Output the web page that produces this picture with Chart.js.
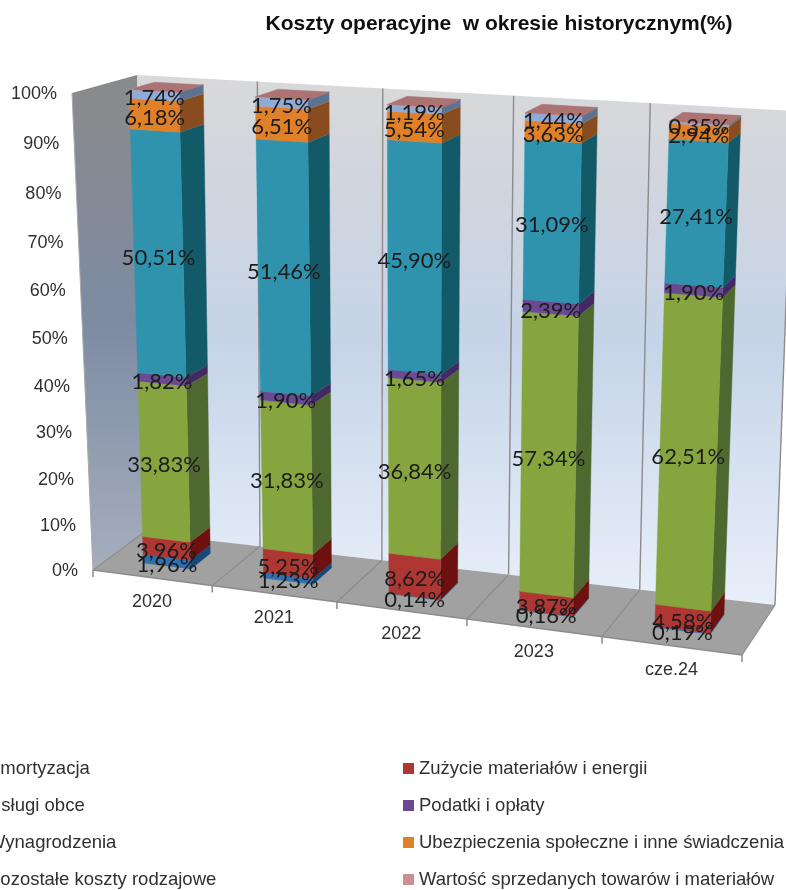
<!DOCTYPE html>
<html lang="pl"><head><meta charset="utf-8">
<style>html,body{margin:0;padding:0;background:#fff;overflow:hidden}#w{position:relative;width:786px;height:890px}</style>
<script src="https://cdn.jsdelivr.net/npm/chart.js@4"></script>
</head><body><div id="w"><canvas id="c"></canvas></div>
<script>
const categories = ['2020','2021','2022','2023','cze.24'];
const titleText = 'Koszty operacyjne  w okresie historycznym(%)';
const amortyzacja = [1.96,1.23,0.14,0.16,0.19];
const zuzycie = [3.96,5.25,8.62,3.87,4.58];
const uslugi = [33.83,31.83,36.84,57.34,62.51];
const podatki = [1.82,1.90,1.65,2.39,1.90];
const wynagrodzenia = [50.51,51.46,45.90,31.09,27.41];
const ubezpieczenia = [6.18,6.51,5.54,3.63,2.94];
const pozostale = [1.74,1.75,1.19,1.44,0.35];
const wartosc = [0,0.07,0.12,0,0.02];
const seriesNames = ['Amortyzacja','Zużycie materiałów i energii','Usługi obce','Podatki i opłaty','Wynagrodzenia','Ubezpieczenia społeczne i inne świadczenia','Pozostałe koszty rodzajowe','Wartość sprzedanych towarów i materiałów'];
const seriesValues = [amortyzacja,zuzycie,uslugi,podatki,wynagrodzenia,ubezpieczenia,pozostale,wartosc];
const frontColors = ['#2e70b0','#ae3733','#86a53f','#6a4a93','#2f93ae','#e08028','#90abd8','#cd8f8f'];
const sideColors  = ['#154a78','#6c1010','#4f682f','#412a63','#125a68','#884c1e','#5a7390','#7f5a5a'];
const topColors   = ['#3a80c0','#c04a45','#9ab84f','#7d5ca8','#45a5c0','#e89340','#a5bce2','#ad7272'];
const showLabel = [true,true,true,true,true,true,true,false];

// 3D frame of the plot, as corners of the floor and of the 100% plane
const floorQuad = [[93,570],[742,655],[775,605],[143,533]];
const ceilQuad  = [[72,93],[766,134],[793,111],[137,75]];
const floorWarp = 0.13, ceilWarp = 0.012;
const barDepth = [0.3,0.7];
const uShift = 0;
const vBend = 0.945;

function homography(q){
  const [[x0,y0],[x1,y1],[x2,y2],[x3,y3]] = q;
  const dx1=x1-x2,dx2=x3-x2,sx=x0-x1+x2-x3,dy1=y1-y2,dy2=y3-y2,sy=y0-y1+y2-y3;
  const den=dx1*dy2-dx2*dy1, g=(sx*dy2-dx2*sy)/den, h=(dx1*sy-sx*dy1)/den;
  const a=x1-x0+g*x1,b=x3-x0+h*x3,c=x0,d=y1-y0+g*y1,e=y3-y0+h*y3,f=y0;
  return (u,v)=>{const w=g*u+h*v+1;return [(a*u+b*v+c)/w,(d*u+e*v+f)/w];};
}
const floorH = homography(floorQuad), ceilH = homography(ceilQuad);
function P(u,d,v){
  const t = v*vBend/(1+(vBend-1)*v);
  const a=floorH(u+floorWarp*u*(1-u),d), b=ceilH(u+ceilWarp*u*(1-u),d);
  return [a[0]+(b[0]-a[0])*t, a[1]+(b[1]-a[1])*t];
}
function poly(ctx,pts,fill,stroke,lw){
  ctx.beginPath();pts.forEach((p,i)=>i?ctx.lineTo(p[0],p[1]):ctx.moveTo(p[0],p[1]));ctx.closePath();
  if(fill){ctx.fillStyle=fill;ctx.fill();}
  if(stroke){ctx.strokeStyle=stroke;ctx.lineWidth=lw||1;ctx.stroke();}
}
function line(ctx,a,b,c,w){ctx.beginPath();ctx.moveTo(a[0],a[1]);ctx.lineTo(b[0],b[1]);ctx.strokeStyle=c;ctx.lineWidth=w;ctx.stroke();}

const view3d = {
  id:'view3d',
  afterLayout(chart){ const t=chart.titleBlock; t.left=212; t.right=786; },
  beforeDatasetsDraw(chart){
    const ctx=chart.ctx, {left,right}=chart.chartArea, xs=chart.scales.x, ys=chart.scales.y, n=categories.length;
    ctx.save();
    // walls
    let g=ctx.createLinearGradient(0,75,0,610);
    g.addColorStop(0,'#d9d9d9');g.addColorStop(0.13,'#d3d6dc');g.addColorStop(0.5,'#c6d4e8');g.addColorStop(1,'#e9f0fa');
    poly(ctx,[P(0,1,0),P(1,1,0),P(1,1,1),P(0,1,1)],g);
    g=ctx.createLinearGradient(0,75,0,570);
    g.addColorStop(0,'#8a8a8a');g.addColorStop(0.5,'#7d8ba3');g.addColorStop(1,'#a6aebd');
    poly(ctx,[P(0,0,0),P(0,1,0),P(0,1,1),P(0,0,1)],g);
    poly(ctx,[P(0,0,0),P(1,0,0),P(1,1,0),P(0,1,0)],'#a1a1a1');
    // grid
    for(let k=0;k<=n;k++){
      const u=k/n;
      if(k>0) line(ctx,P(u,1,0),P(u,1,1),'#8c8c8c',1.4);
      line(ctx,P(u,0,0),P(u,1,0),'#8c8c8c',1.2);
      const a=P(u,0,0); line(ctx,a,[a[0],a[1]+7],'#8c8c8c',1.5);
    }
    line(ctx,P(0,0,0),P(1,0,0),'#8c8c8c',1.5);
    line(ctx,P(0,0,0),P(0,0,1),'#a8a8a8',1);
    // bars
    const metas=chart.getSortedVisibleDatasetMetas();
    for(let i=0;i<n;i++){
      metas.forEach((m,di)=>{
        const el=m.data[i];
        const u1=(el.x-el.width/2-left)/(right-left)+uShift, u2=(el.x+el.width/2-left)/(right-left)+uShift;
        const v0=ys.getValueForPixel(el.base)/100, v1=ys.getValueForPixel(el.y)/100;
        const [d0,d1]=barDepth;
        poly(ctx,[P(u2,d0,v0),P(u2,d1,v0),P(u2,d1,v1),P(u2,d0,v1)],sideColors[di],sideColors[di],0.4);
        poly(ctx,[P(u1,d0,v0),P(u2,d0,v0),P(u2,d0,v1),P(u1,d0,v1)],frontColors[di],frontColors[di],0.4);
        poly(ctx,[P(u1,d0,v1),P(u2,d0,v1),P(u2,d1,v1),P(u1,d1,v1)],topColors[di],topColors[di],0.4);
      });
    }
    // data labels
    ctx.font='22px Lato';ctx.fillStyle='#1c1c1c';ctx.textAlign='center';ctx.textBaseline='middle';
    for(let i=0;i<n;i++){
      metas.forEach((m,di)=>{
        if(!showLabel[di])return;
        const el=m.data[i];
        const u=(el.x-left)/(right-left)+uShift, vm=(ys.getValueForPixel(el.base)+ys.getValueForPixel(el.y))/200;
        const p=P(u,barDepth[0],vm);
        ctx.fillText(seriesValues[di][i].toFixed(2).replace('.',',')+'%',p[0],p[1]+3);
      });
    }
    // axis labels
    ctx.font='18px "Liberation Sans"';ctx.fillStyle='#303030';
    ctx.textAlign='right';
    ys.ticks.forEach(t=>{const p=P(0,0,t.value/100);ctx.fillText(t.value+'%',p[0]-15,p[1]+1);});
    ctx.textAlign='center';
    categories.forEach((c,i)=>{const p=P((i+0.5)/n,0,0);ctx.fillText(xs.getLabelForValue(i),p[0],p[1]+24);});
    // legend
    ctx.textAlign='left';ctx.font='18.5px "Liberation Sans"';
    seriesNames.forEach((s,i)=>{
      const col=i%2, row=(i-col)/2, y=768+row*37, x=col?403:-28;
      ctx.fillStyle=frontColors[i];ctx.fillRect(x,y-5,11,11);
      ctx.fillStyle='#303030';ctx.fillText(s,col?x+16:-12,y+1);
    });
    ctx.restore();
    return false;
  }
};

new Chart(document.getElementById('c'),{
  type:'bar',
  data:{labels:categories,datasets:seriesNames.map((s,i)=>({label:s,data:seriesValues[i],backgroundColor:frontColors[i]}))},
  options:{
    responsive:true,maintainAspectRatio:false,animation:false,
    layout:{padding:{left:93,right:44,top:0,bottom:320}},
    datasets:{bar:{categoryPercentage:0.8,barPercentage:0.5}},
    plugins:{
      legend:{display:false},tooltip:{enabled:false},
      title:{display:true,text:titleText,color:'#111',font:{family:'"Liberation Sans"',size:21,weight:'bold'},padding:{top:11.5,bottom:58}}
    },
    scales:{
      x:{stacked:true,grid:{display:false},border:{display:false},ticks:{display:false}},
      y:{stacked:true,min:0,max:100,grid:{display:false},border:{display:false},ticks:{display:false,stepSize:10}}
    }
  },
  plugins:[view3d]
});
</script></body></html>
